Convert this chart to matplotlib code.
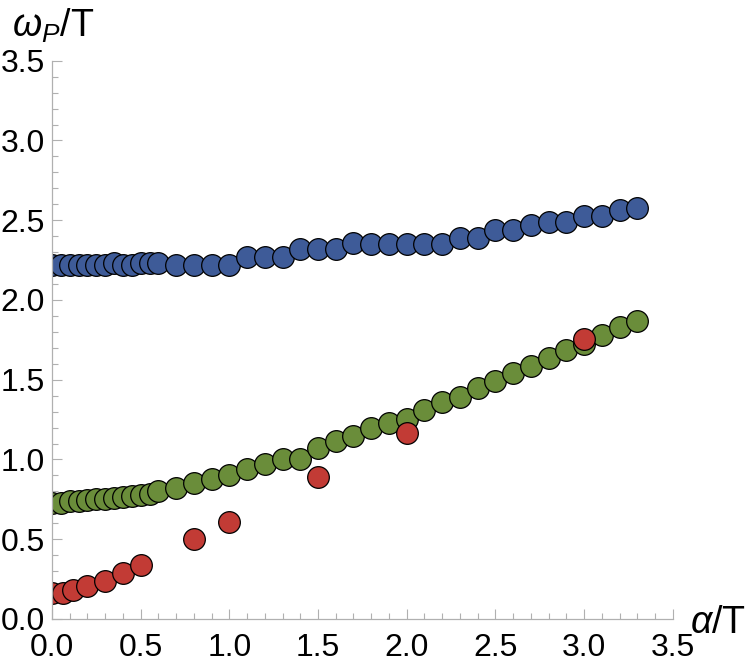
import matplotlib
matplotlib.use("Agg")
import matplotlib.pyplot as plt
from matplotlib.ticker import MultipleLocator

plt.rcParams['font.family'] = ['Liberation Sans', 'DejaVu Sans']
plt.rcParams['mathtext.fontset'] = 'custom'
plt.rcParams['mathtext.rm'] = 'Liberation Sans'
plt.rcParams['mathtext.it'] = 'Liberation Sans:italic'

# data
x_blue = [0.0, 0.05, 0.1, 0.15, 0.2, 0.25, 0.3, 0.35, 0.4, 0.45, 0.5, 0.55,
          0.6, 0.7, 0.8, 0.9, 1.0, 1.1, 1.2, 1.3, 1.4, 1.5, 1.6, 1.7, 1.8, 1.9,
          2.0, 2.1, 2.2, 2.3, 2.4, 2.5, 2.6, 2.7, 2.8, 2.9, 3.0, 3.1, 3.2, 3.3]
y_blue = [2.22, 2.22, 2.22, 2.22, 2.22, 2.22, 2.22, 2.23, 2.22, 2.22, 2.23, 2.23,
          2.23, 2.22, 2.22, 2.22, 2.22, 2.27, 2.27, 2.27, 2.32, 2.32, 2.32, 2.355, 2.35, 2.35,
          2.35, 2.35, 2.35, 2.39, 2.39, 2.44, 2.44, 2.47, 2.49, 2.49, 2.525, 2.525, 2.565, 2.575]

x_green = x_blue
y_green = [0.73, 0.73, 0.74, 0.74, 0.745, 0.75, 0.755, 0.76, 0.765, 0.77, 0.775, 0.785,
           0.80, 0.82, 0.85, 0.875, 0.90, 0.94, 0.97, 1.005, 1.005, 1.075, 1.115, 1.15, 1.195, 1.23,
           1.255, 1.31, 1.36, 1.39, 1.45, 1.49, 1.545, 1.585, 1.635, 1.685, 1.725, 1.78, 1.83, 1.87]

x_red = [0.0, 0.06, 0.12, 0.2, 0.3, 0.4, 0.5, 0.8, 1.0, 1.5, 2.0, 3.0]
y_red = [0.16, 0.165, 0.18, 0.21, 0.24, 0.29, 0.34, 0.50, 0.61, 0.89, 1.165, 1.755]

fig = plt.figure(figsize=(7.5, 6.71), dpi=100)
ax = fig.add_axes([0.0693, 0.0775, 0.8277, 0.832])

for xs, ys, c in [(x_blue, y_blue, '#3E5B98'), (x_green, y_green, '#6A8D3A'), (x_red, y_red, '#C23B35')]:
    ax.plot(xs, ys, 'o', ms=15.6, mfc=c, mec='black', mew=0.9)

ax.set_xlim(0, 3.5)
ax.set_ylim(0, 3.5)
ax.xaxis.set_major_locator(MultipleLocator(0.5))
ax.xaxis.set_minor_locator(MultipleLocator(0.1))
ax.yaxis.set_major_locator(MultipleLocator(0.5))
ax.yaxis.set_minor_locator(MultipleLocator(0.1))
ax.xaxis.set_major_formatter(lambda v, p: f"{v:.1f}")
ax.yaxis.set_major_formatter(lambda v, p: f"{v:.1f}")

for s in ['top', 'right']:
    ax.spines[s].set_visible(False)
for s in ['left', 'bottom']:
    ax.spines[s].set_color('#b0b0b0')
    ax.spines[s].set_linewidth(0.9)

ax.tick_params(which='both', direction='in', color='#b0b0b0', width=0.8, labelsize=23)
ax.tick_params(which='major', length=7)
ax.tick_params(which='minor', length=4)
ax.tick_params(axis='x', pad=10)
ax.tick_params(axis='y', pad=5)

fig.text(12/750, 1 - 37/671, r'$\omega_P/\mathrm{T}$', fontsize=27, ha='left', va='baseline')
fig.text(690/750, 1 - 633/671, r'$\alpha/\mathrm{T}$', fontsize=27, ha='left', va='baseline')

fig.savefig('out.png', dpi=100)
